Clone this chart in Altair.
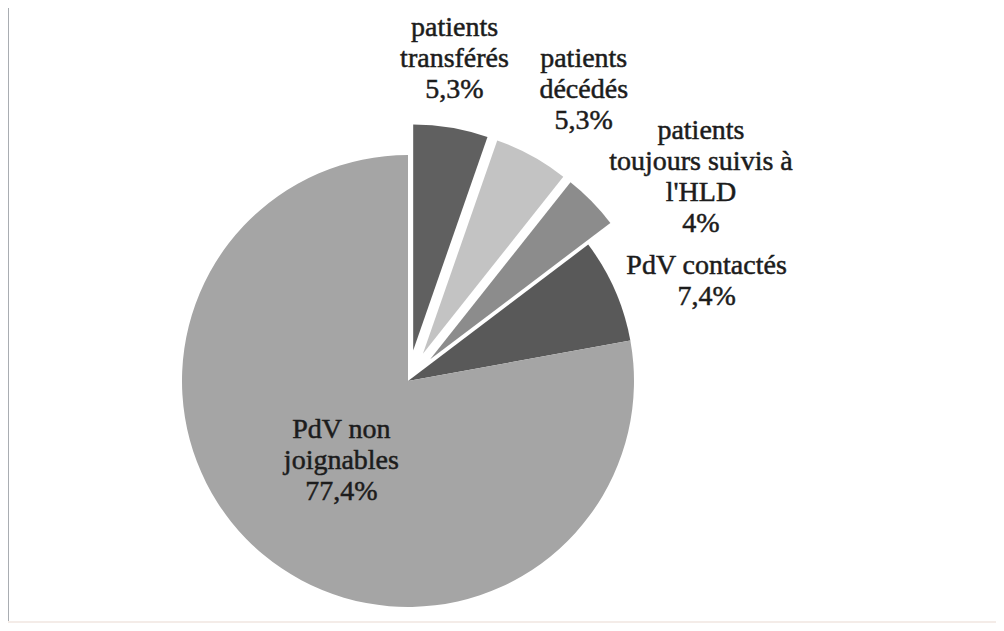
import altair as alt
import numpy as np
import pandas as pd

# ---- data ----
CATEGORIES = [
    "patients transférés",
    "patients décédés",
    "patients toujours suivis à l'HLD",
    "PdV contactés",
    "PdV non joignables",
]
LABEL_LINES = [
    "patients\ntransférés",
    "patients\ndécédés",
    "patients\ntoujours suivis à\nl'HLD",
    "PdV contactés",
    "PdV non\njoignables",
]
VALUES = [5.3, 5.3, 4.0, 7.4, 77.4]
EXPLODED = ["patients transférés", "patients décédés", "patients toujours suivis à l'HLD"]

# ---- style ----
COLORS = ["#606060", "#c3c3c3", "#8c8c8c", "#595959", "#a5a5a5"]
W, H = 988, 615
CX, CY = 400, 373        # pie centre (chart coordinates)
R = 226                  # pie radius
EXPLODE = 31             # explosion distance
PAD = 22                 # label gap
FONT = "Liberation Serif"
FS = 28
LH = 31
CHAR_W = 11.0


def fmt_pct(v):
    s = f"{v:.1f}".rstrip("0").rstrip(".")
    return s.replace(".", ",") + "%"


vals = np.array(VALUES, dtype=float)
frac = vals / vals.sum()
a1 = np.cumsum(frac) * 2 * np.pi
a0 = a1 - frac * 2 * np.pi
mid = (a0 + a1) / 2
d = np.array([EXPLODE if c in EXPLODED else 0 for c in CATEGORIES], dtype=float)
px = CX + d * np.sin(mid)
py = CY - d * np.cos(mid)

labels, lx, ly = [], [], []
for i, c in enumerate(CATEGORIES):
    text = LABEL_LINES[i] + "\n" + fmt_pct(VALUES[i])
    labels.append(text)
    lines = text.split("\n")
    w = max(len(s) for s in lines) * CHAR_W
    h = len(lines) * LH
    th = mid[i]
    if frac[i] >= 0.5:
        r_in = 0.46 * R
        cx_l = CX + r_in * np.sin(th)
        cy_l = CY - r_in * np.cos(th)
    else:
        deg = np.degrees(th) % 360
        re = R + d[i] + PAD
        pxl = CX + re * np.sin(th)
        pyl = CY - re * np.cos(th)
        a = np.clip((deg - 10) / 20, 0, 1)
        b = np.clip((48 - deg) / 18, 0, 1)
        cx_l = pxl + np.sign(np.sin(th)) * a * w / 2
        cy_l = pyl - np.sign(np.cos(th)) * b * h / 2
    # Vega places the first line at y; shift so the block is centred
    lx.append(cx_l)
    ly.append(cy_l - (len(lines) - 1) * LH / 2)

df = pd.DataFrame({
    "category": CATEGORIES,
    "value": VALUES,
    "a0": a0, "a1": a1,
    "px": px, "py": py,
    "label": labels,
    "lx": lx, "ly": ly,
})

color = alt.Color("category:N", scale=alt.Scale(domain=CATEGORIES, range=COLORS), legend=None)

base = alt.Chart(df)

arcs = base.mark_arc(outerRadius=R).encode(
    theta=alt.Theta("a0:Q", scale=None),
    theta2=alt.Theta2("a1:Q"),
    x=alt.X("px:Q", scale=None),
    y=alt.Y("py:Q", scale=None),
    color=color,
    order=alt.Order("a0:Q"),
)

text = base.mark_text(
    font=FONT, fontSize=FS, lineHeight=LH, lineBreak="\n",
    align="center", baseline="middle", color="#1c1c1c",
    stroke="#1c1c1c", strokeWidth=0.5,
).encode(
    x=alt.X("lx:Q", scale=None),
    y=alt.Y("ly:Q", scale=None),
    text="label:N",
)

border = alt.Chart(pd.DataFrame({"k": [0]})).mark_rule(color="#a9adb2", strokeWidth=2).encode(
    x=alt.value(0), y=alt.value(0), y2=alt.value(H)
)
bottom = alt.Chart(pd.DataFrame({"k": [0]})).mark_rule(color="#f4ece8", strokeWidth=2).encode(
    x=alt.value(0), x2=alt.value(W), y=alt.value(H - 1)
)

chart = alt.layer(arcs, text, border, bottom).properties(
    width=W, height=H, autosize=alt.AutoSizeParams(type="none"), padding=0,
    background="white",
).configure_view(stroke=None)

chart.save("out.html", embed_options={"renderer": "svg", "actions": False})
